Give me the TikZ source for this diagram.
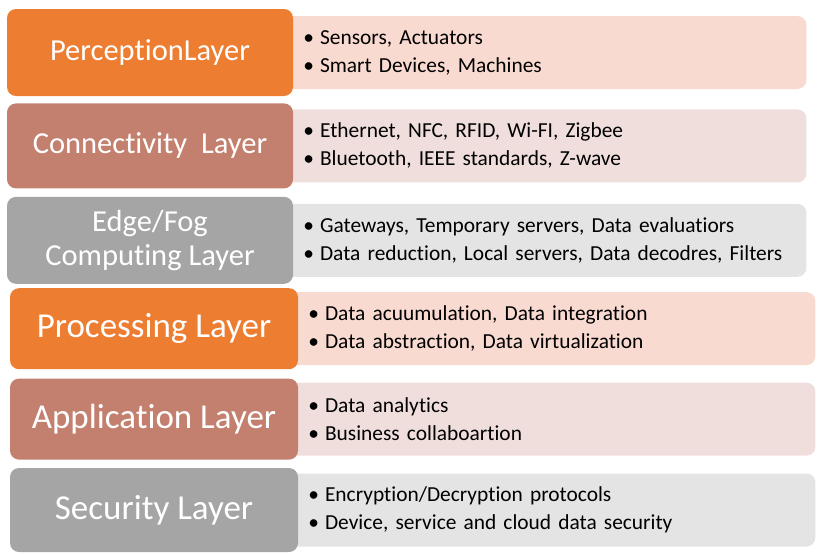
\documentclass[tikz,border=0pt]{standalone}
\usepackage{fontspec}
\setmainfont{Carlito}[Ligatures=NoCommon]
\usetikzlibrary{positioning,backgrounds}

\definecolor{orangeL}{HTML}{ED7D31}
\definecolor{brownL}{HTML}{C4806F}
\definecolor{grayL}{HTML}{A5A5A5}
\definecolor{orangeD}{HTML}{F9DAD0}
\definecolor{brownD}{HTML}{EFDEDC}
\definecolor{grayD}{HTML}{E4E4E4}

\newcommand{\bul}{\textbullet\kern6pt}

\tikzset{
    layer/.style={rounded corners=9pt, text=white, align=center, inner sep=0pt, minimum width=286pt, font=\fontsize{30.5}{34}\selectfont},
    biglayer/.style={layer, minimum width=288pt, font=\fontsize{35}{38}\selectfont},
    detail/.style={rounded corners=9pt, align=left, inner xsep=20pt, inner ysep=0pt, minimum height=73pt, text width=483pt, font=\fontsize{21.4}{28}\selectfont},
}

\begin{document}
\begin{tikzpicture}[x=1pt, y=-1pt]
        \useasboundingbox (0,0) rectangle (840,554);

        % layer names
        \node[layer, fill=orangeL, minimum height=87pt] (perception) at (150,52.5) {PerceptionLayer};
        \node[layer, fill=brownL, minimum height=85pt, below=7pt of perception] (connectivity) {Connectivity\ \ Layer};
        \node[layer, fill=grayL, minimum height=87pt, below=8pt of connectivity] (edgefog) {Edge/Fog\\Computing Layer};
        \node[biglayer, fill=orangeL, minimum height=81pt, below=4pt of edgefog, xshift=4pt] (processing) {Processing Layer};
        \node[biglayer, fill=brownL, minimum height=81pt, below=9pt of processing] (application) {Application Layer};
        \node[biglayer, fill=grayL, minimum height=84pt, below=8pt of application] (security) {Security Layer};

        % details behind
        \begin{scope}[on background layer]
            \node[detail, fill=orangeD, right=-10pt of perception] (sensors) {\bul Sensors, Actuators\\\bul Smart Devices, Machines};
            \node[detail, fill=brownD, right=-10pt of connectivity] (protocols) {\bul Ethernet, NFC, RFID, Wi-FI, Zigbee\\\bul Bluetooth, IEEE standards, Z-wave};
            \node[detail, fill=grayD, right=-10pt of edgefog] (gateways) {\bul Gateways, Temporary servers, Data evaluatiors\\\bul Data reduction, Local servers, Data decodres, Filters};
            \node[detail, fill=orangeD, text width=487pt, right=-10pt of processing] (dataproc) {\bul Data acuumulation, Data integration\\\bul Data abstraction, Data virtualization};
            \node[detail, fill=brownD, text width=487pt, right=-10pt of application] (analytics) {\bul Data analytics\\\bul Business collaboartion};
            \node[detail, fill=grayD, text width=487pt, right=-10pt of security] (encryption) {\bul Encryption/Decryption protocols\\\bul Device, service and cloud data security};
        \end{scope}
\end{tikzpicture}
\end{document}
